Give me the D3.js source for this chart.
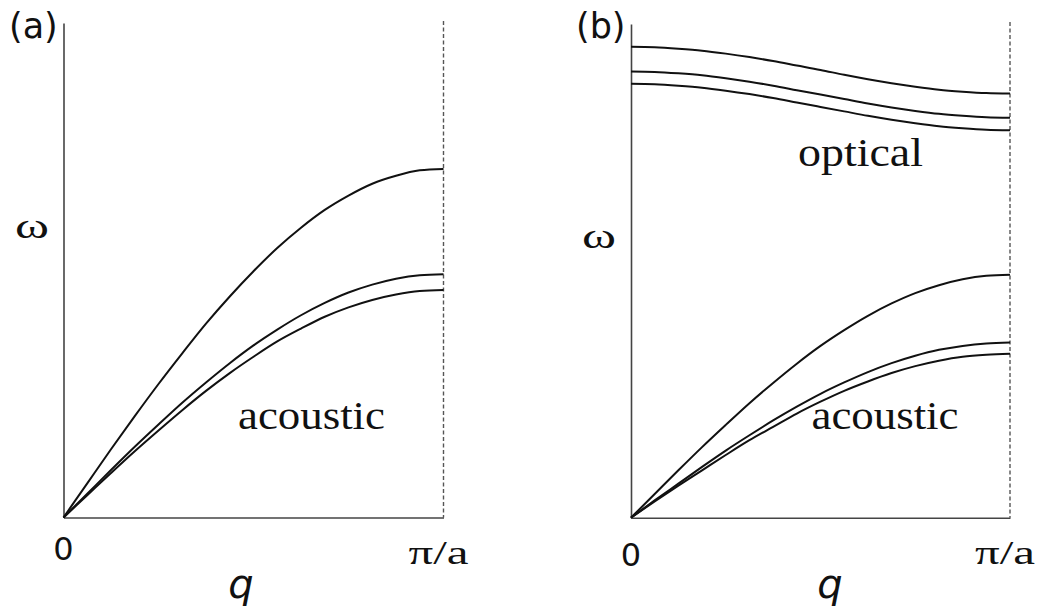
<!DOCTYPE html>
<html>
<head>
<meta charset="utf-8">
<script src="https://cdn.jsdelivr.net/npm/d3@7"></script>
<style>
  html, body { margin: 0; padding: 0; background: #fff; }
  svg { display: block; }
  .serif { font-family: "Liberation Serif", "Times New Roman", serif; }
  .sans { font-family: "DejaVu Sans", sans-serif; }
</style>
</head>
<body>
<svg id="chart" width="1047" height="615"></svg>
<script>
// Wave vector samples, as fractions of the zone edge π/a
const qFrac = [0, 0.0625, 0.125, 0.1875, 0.25, 0.3125, 0.375, 0.4375, 0.5,
               0.5625, 0.625, 0.6875, 0.75, 0.8125, 0.875, 0.9375, 1];

// Panel (a): monatomic chain, three acoustic branches (ω, arbitrary units)
const aAcousticTop = [0, .069, .138, .205, .270, .332, .392, .447, .498, .545, .586, .622, .651, .675, .691, .702, .705];
const aAcousticMid = [0, .048, .096, .143, .188, .232, .273, .312, .348, .380, .409, .434, .455, .471, .483, .490, .492];
const aAcousticLow = [0, .045, .090, .134, .176, .217, .256, .292, .325, .356, .382, .406, .425, .440, .451, .458, .460];

// Panel (b): diatomic chain, acoustic and optical branches
const bAcousticTop = [0, .048, .096, .143, .188, .232, .273, .312, .348, .380, .409, .434, .455, .471, .483, .490, .492];
const bAcousticMid = [0, .035, .069, .103, .136, .167, .197, .225, .251, .274, .295, .313, .328, .340, .348, .353, .355];
const bAcousticLow = [0, .033, .065, .096, .127, .157, .184, .211, .235, .257, .276, .293, .307, .318, .326, .330, .332];
const bOpticalTop = [.954, .953, .950, .946, .940, .933, .925, .916, .907, .897, .888, .880, .873, .867, .863, .860, .859];
const bOpticalMid = [.904, .903, .900, .896, .890, .883, .875, .866, .857, .848, .839, .831, .824, .818, .814, .811, .810];
const bOpticalLow = [.879, .878, .875, .871, .865, .858, .850, .841, .832, .823, .814, .806, .799, .793, .789, .786, .785];

const xTickLabels = ["0", "π/a"];
const panelLabels = ["(a)", "(b)"];

const svg = d3.select("#chart");

const panels = [
  {
    tag: panelLabels[0], x0: 63.5, x1: 443.5, yTop: 23, yBase: 517.5,
    tagX: 9, omegaX: 15, omegaY: 238,
    series: [aAcousticTop, aAcousticMid, aAcousticLow],
    labels: [{ text: "acoustic", cx: 311.5, y: 429, w: 147 }],
    zeroY: 560, piY: 564, qX: 241
  },
  {
    tag: panelLabels[1], x0: 631, x1: 1010, yTop: 24, yBase: 517.7,
    tagX: 576, omegaX: 582, omegaY: 248,
    series: [bAcousticTop, bAcousticMid, bAcousticLow, bOpticalTop, bOpticalMid, bOpticalLow],
    labels: [
      { text: "acoustic", cx: 885, y: 429, w: 147 },
      { text: "optical", cx: 860.5, y: 166, w: 125 }
    ],
    zeroY: 566, piY: 564, qX: 830
  }
];

panels.forEach(p => {
  const x = d3.scaleLinear().domain([0, 1]).range([p.x0, p.x1]);
  const y = d3.scaleLinear().domain([0, 1]).range([p.yBase, p.yTop]);
  const g = svg.append("g");

  // zone boundary at q = π/a
  g.append("line")
    .attr("x1", x(1)).attr("x2", x(1))
    .attr("y1", p.yTop - 2).attr("y2", p.yBase)
    .attr("stroke", "#555").attr("stroke-width", 1.4)
    .attr("stroke-dasharray", "4,2.5");

  // ω axis
  const yAxis = g.append("g")
    .attr("transform", `translate(${x(0)},0)`)
    .call(d3.axisLeft(y).ticks(0).tickSizeOuter(0));
  yAxis.select(".domain").attr("stroke", "#444").attr("stroke-width", 1.6);

  // q axis
  const xAxis = g.append("g")
    .attr("transform", `translate(0,${y(0)})`)
    .call(d3.axisBottom(x).ticks(0).tickSizeOuter(0));
  xAxis.select(".domain").attr("stroke", "#444").attr("stroke-width", 1.6);

  // dispersion branches
  const line = d3.line()
    .x((d, i) => x(qFrac[i]))
    .y(d => y(d))
    .curve(d3.curveMonotoneX);
  p.series.forEach(s => {
    g.append("path")
      .datum(s)
      .attr("d", line)
      .attr("fill", "none")
      .attr("stroke", "#111")
      .attr("stroke-width", 2);
  });

  // panel tag
  g.append("text").attr("class", "sans")
    .attr("x", p.tagX).attr("y", 38)
    .attr("font-size", 35)
    .attr("fill", "#111")
    .text(p.tag);

  // ω label
  g.append("text").attr("class", "serif")
    .attr("x", p.omegaX).attr("y", p.omegaY)
    .attr("font-size", 36)
    .attr("textLength", 34).attr("lengthAdjust", "spacingAndGlyphs")
    .attr("fill", "#111")
    .text("ω");

  // tick labels
  g.append("text").attr("class", "sans")
    .attr("x", x(0)).attr("y", p.zeroY)
    .attr("text-anchor", "middle")
    .attr("font-size", 32)
    .attr("fill", "#111")
    .text(xTickLabels[0]);
  g.append("text").attr("class", "serif")
    .attr("x", x(1) - 35).attr("y", p.piY)
    .attr("font-size", 34)
    .attr("textLength", 60).attr("lengthAdjust", "spacingAndGlyphs")
    .attr("fill", "#111")
    .text(xTickLabels[1]);

  // q label
  g.append("text").attr("class", "sans")
    .attr("x", p.qX).attr("y", 598)
    .attr("text-anchor", "middle")
    .attr("font-style", "italic").attr("font-size", 40)
    .attr("fill", "#111")
    .text("q");

  // branch names
  p.labels.forEach(l => {
    g.append("text").attr("class", "serif")
      .attr("x", l.cx - l.w / 2).attr("y", l.y)
      .attr("font-size", 40)
      .attr("textLength", l.w).attr("lengthAdjust", "spacingAndGlyphs")
      .attr("fill", "#111")
      .text(l.text);
  });
});
</script>
</body>
</html>
